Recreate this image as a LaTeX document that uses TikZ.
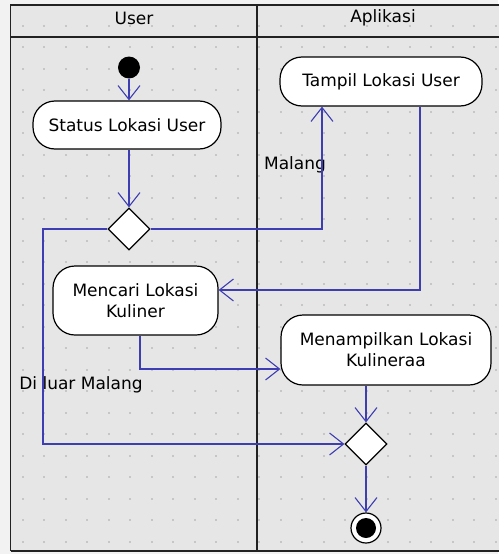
\documentclass[tikz,border=0pt]{standalone}
\usepackage{fontspec}
\setmainfont{DejaVu Sans}
\usetikzlibrary{arrows.meta,shapes.geometric}
\definecolor{flowblue}{RGB}{62,62,178}
\definecolor{lanebg}{RGB}{230,230,230}
\definecolor{outerbg}{RGB}{242,242,242}
\definecolor{gridc}{RGB}{198,198,198}
\definecolor{framec}{RGB}{34,34,34}
\tikzset{
  txt/.style={font=\fontsize{17}{21}\selectfont, inner sep=0pt},
  actbox/.style={draw=black, line width=1.2pt, fill=white, rounded corners=22pt,
    align=center, font=\fontsize{17}{21}\selectfont, inner sep=2pt},
  decision/.style={draw=black, line width=1.2pt, fill=white, shape=diamond,
    minimum width=42pt, minimum height=42pt, inner sep=0pt},
  flow/.style={draw=flowblue, line width=1.2pt,
    -{Straight Barb[length=14pt,width=22pt,line width=1.1pt]}},
  framel/.style={draw=framec, line width=1.8pt}
}
\begin{document}
\begin{tikzpicture}[x=1pt,y=-1pt]
\useasboundingbox (0,0) rectangle (498,554);
% page and swimlane background
\fill[outerbg] (0,0) rectangle (498,554);
\fill[lanebg] (10.5,5) rectangle (500,551);
% dotted grid
\foreach \i in {0,...,22}
  \foreach \j in {0,...,24}
    \fill[gridc] ({21.7+21.5*\i},{24.7+21.5*\j}) rectangle ++(2.2,2.2);
% swimlane frame
\draw[framel] (10.5,551) -- (10.5,5) -- (500,5);
\draw[framel] (10.5,37) -- (500,37);
\draw[framel] (257,5) -- (257,551);
\draw[framel] (10.5,551) -- (500,551);
\node[txt] (hUser) at (134,18) {User};
\node[txt] (hApp) at (383,18) {Aplikasi};

% activity nodes
\node[circle, fill=black, minimum size=22pt, inner sep=0pt] (init) at (129,67.5) {};
\node[actbox, minimum width=188pt, minimum height=48pt] (status) at (127,125) {Status Lokasi User};
\node[decision] (d1) at (129,229) {};
\node[actbox, minimum width=202pt, minimum height=49pt] (tampil) at (381,81.5) {Tampil Lokasi User};
\node[actbox, minimum width=165pt, minimum height=69pt] (cari) at (135.5,300.5) {Mencari Lokasi\\Kuliner};
\node[actbox, minimum width=210pt, minimum height=70pt] (kul) at (386,350) {Menampilkan Lokasi\\Kulineraa};
\node[decision] (merge) at (366,444) {};
\node[circle, draw=black, line width=1.2pt, fill=white, minimum size=30pt, inner sep=0pt] (final) at (366,528) {};
\fill[black] (final.center) circle (10);

% guard labels
\node[txt] (lMalang) at (295,165) {Malang};
\node[txt] (lLuar) at (81,385) {Di luar Malang};

% bend points
\coordinate (lc) at (43,444);
\coordinate (mx) at (322,0);
\coordinate (tr) at (420,290);
\coordinate (cb) at (140,369);

% control flows
\draw[flow] (init.south) -- (init.south |- status.north);
\draw[flow] (status.south -| d1) -- (d1.north);
\draw[flow] (d1.east) -| (mx |- tampil.south);
\draw[flow] (d1.west) -| (lc) -- (merge.west);
\draw[flow] (tr |- tampil.south) |- (cari.east |- tr);
\draw[flow] (cb |- cari.south) |- (kul.west |- cb);
\draw[flow] (kul.south -| merge) -- (merge.north);
\draw[flow] (merge.south) -- (final.north);
\end{tikzpicture}
\end{document}
